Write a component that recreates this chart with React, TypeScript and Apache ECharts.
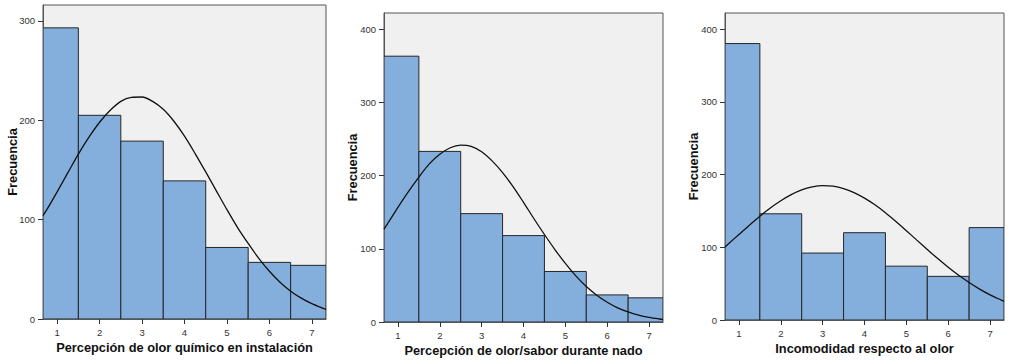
import React, { useEffect, useRef } from "react";
import * as echarts from "echarts";

const categories = [1, 2, 3, 4, 5, 6, 7];
const freqQuimico = [293, 205, 179, 139, 72, 57, 54];
const freqNado = [363, 233, 148, 118, 69, 37, 33];
const freqIncomodidad = [380, 146, 92, 120, 74, 60, 127];

const curveX = [0.667, 0.75, 1, 1.25, 1.5, 1.75, 2, 2.25, 2.5, 2.75, 3, 3.25, 3.5, 3.75, 4, 4.25, 4.5, 4.75, 5, 5.25, 5.5, 5.75, 6, 6.25, 6.5, 6.75, 7, 7.25, 7.333];
const curveQuimico = [104, 109.5, 128, 147, 166, 183, 198, 210, 219, 223, 223.4, 219, 211, 199, 184, 166.5, 148, 129, 110, 92, 76, 61, 48, 37, 28, 21, 15.4, 11, 9.8];
const curveNado = [127, 134, 156.5, 178, 198, 216, 229, 238, 241.6, 240, 232.5, 220, 204, 185, 163.5, 141, 119.5, 99, 80, 63, 48.5, 36.6, 27, 19.4, 13.7, 9.4, 6.3, 4.1, 3.6];
const curveIncomodidad = [100.4, 104.7, 117.6, 130.4, 142.7, 154, 164, 172.4, 178.8, 182.9, 184.7, 183.9, 180.7, 175.2, 167.6, 158.3, 147.4, 135.4, 122.8, 109.8, 97, 84.4, 72.5, 61.5, 51.5, 42.5, 34.6, 27.8, 25.7];

const xTicks = [1, 2, 3, 4, 5, 6, 7];
const yTicks = [0, 100, 200, 300, 400];

const titles = [
  "Percepción de olor químico en instalación",
  "Percepción de olor/sabor durante nado",
  "Incomodidad respecto al olor",
];
const yMax = [316, 422, 422];
const freqs = [freqQuimico, freqNado, freqIncomodidad];
const curves = [curveQuimico, curveNado, curveIncomodidad];

const grids = [
  { left: 43, top: 5, width: 283, height: 314 },
  { left: 384, top: 13, width: 279, height: 309 },
  { left: 725, top: 13, width: 279, height: 307 },
];
const yNameGaps = [24, 25.5, 25];

export default function App() {
  const ref = useRef<HTMLDivElement>(null);
  useEffect(() => {
    document.body.style.margin = "0";
    const chart = echarts.init(ref.current!, null, { renderer: "svg" });
    const font = "'Liberation Sans', Arial, sans-serif";
    const option: any = {
      animation: false,
      backgroundColor: "#ffffff",
      grid: grids.map((g) => ({
        ...g,
        show: true,
        backgroundColor: "#f0f0f0",
        borderColor: "#555555",
        borderWidth: 1,
        outerBoundsMode: "none",
        containLabel: false,
      })),
      xAxis: grids.map((_, i) => ({
        type: "value",
        gridIndex: i,
        min: 0.667,
        max: 7.333,
        name: titles[i],
        nameLocation: "middle",
        nameGap: 22,
        nameMoveOverlap: false,
        nameTextStyle: { fontFamily: font, fontWeight: "bold", fontSize: 12.8, color: "#111" },
        axisLine: { show: true, onZero: false, lineStyle: { color: "#555", width: 1 } },
        axisTick: { show: true, inside: false, length: 5, customValues: xTicks, lineStyle: { color: "#333" } },
        axisLabel: { customValues: xTicks, margin: 8, fontSize: 9.5, fontFamily: font, color: "#333" },
        splitLine: { show: false },
      })),
      yAxis: grids.map((_, i) => ({
        type: "value",
        gridIndex: i,
        min: 0,
        max: yMax[i],
        name: "Frecuencia",
        nameLocation: "middle",
        nameGap: yNameGaps[i],
        nameMoveOverlap: false,
        nameRotate: 90,
        nameTextStyle: { fontFamily: font, fontWeight: "bold", fontSize: 12.8, color: "#111" },
        axisLine: { show: true, lineStyle: { color: "#555", width: 1 } },
        axisTick: {
          show: true,
          inside: false,
          length: 5,
          customValues: yTicks.filter((v) => v <= yMax[i]),
          lineStyle: { color: "#333" },
        },
        axisLabel: {
          customValues: yTicks.filter((v) => v <= yMax[i]),
          margin: 8,
          fontSize: 9.5,
          fontFamily: font,
          color: "#333",
        },
        splitLine: { show: false },
      })),
      series: [
        ...freqs.map((f, i) => ({
          type: "custom",
          xAxisIndex: i,
          yAxisIndex: i,
          data: categories.map((c, k) => [c, f[k]]),
          clip: true,
          renderItem: (params: any, api: any) => {
            const x = api.value(0);
            const y = api.value(1);
            const p0 = api.coord([x - 0.5, y]);
            const p1 = api.coord([x + 0.5, 0]);
            const cs = params.coordSys;
            const rect = echarts.graphic.clipRectByRect(
              { x: p0[0], y: p0[1], width: p1[0] - p0[0], height: p1[1] - p0[1] },
              { x: cs.x, y: cs.y, width: cs.width, height: cs.height }
            );
            if (!rect) return null;
            return {
              type: "rect",
              shape: rect,
              style: { fill: "#84afdc", stroke: "#262626", lineWidth: 1 },
            };
          },
          z: 2,
        })),
        ...curves.map((c, i) => ({
          type: "line",
          xAxisIndex: i,
          yAxisIndex: i,
          data: curveX.map((x, k) => [x, c[k]]),
          smooth: 0.3,
          showSymbol: false,
          symbol: "none",
          lineStyle: { color: "#111", width: 1.3 },
          z: 3,
        })),
      ],
    };
    chart.setOption(option);
    return () => chart.dispose();
  }, []);
  return <div ref={ref} style={{ width: 1010, height: 360 }} />;
}
